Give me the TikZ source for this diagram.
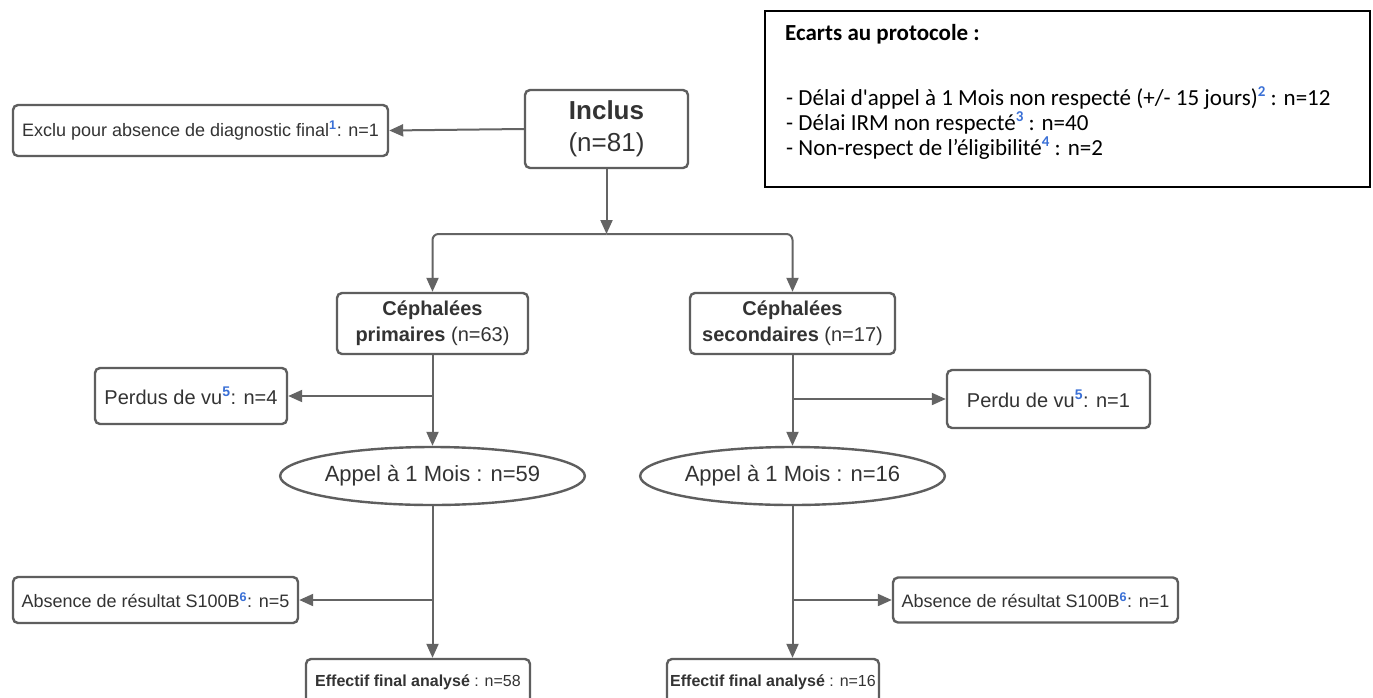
\documentclass[tikz,border=0pt]{standalone}
\usepackage{fontspec}
\setmainfont{Liberation Sans}
\newfontfamily\calibri{Carlito}
\usetikzlibrary{arrows.meta,shapes.geometric}
\definecolor{boxgray}{RGB}{94,94,94}
\definecolor{linegray}{RGB}{100,100,100}
\definecolor{txtgray}{RGB}{51,51,51}
\definecolor{supblue}{RGB}{58,112,214}
\newcommand\fnote[1]{\textsuperscript{\textcolor{supblue}{\bfseries #1}}}
\newcommand\pnote[1]{\raisebox{0.36em}{\fontsize{15}{15}\selectfont\textcolor{supblue}{\bfseries #1}}}
\newcommand\fsz[1]{\fontsize{#1}{#1}\selectfont}
\tikzset{
  fbox/.style={draw=boxgray, line width=2.4pt, rounded corners=5pt, fill=white,
    text=txtgray, align=center, inner sep=0pt},
  fell/.style={ellipse, draw=boxgray, line width=2.4pt, fill=white,
    text=txtgray, inner sep=0pt},
  conn/.style={draw=linegray, line width=2pt,
    -{Triangle[length=14pt,width=12pt]}},
  ptext/.style={anchor=base west, inner sep=0pt, text=black, font=\calibri\fsz{23}}
}
\begin{document}
\begin{tikzpicture}[x=1pt,y=-1pt]
\useasboundingbox[fill=white] (0,0) rectangle (1373,697);

% top
\node[fbox, minimum width=375pt, minimum height=51pt, font=\fsz{18}] (exclu) at (200.5,130.5)
  {Exclu pour absence de diagnostic final\fnote{1}: n=1};
\node[fbox, minimum width=163pt, minimum height=78pt, font=\fontsize{26}{32}\selectfont] (inclus) at (606.5,129)
  {{\bfseries Inclus}\\(n=81)};

% protocol box
\node[draw=black, line width=2pt, minimum width=605pt, minimum height=176pt, inner sep=0pt, anchor=north west] (proto) at (764,10) {};
\node[ptext] (p0) at (785,40) {\bfseries Ecarts au protocole :};
\node[ptext] (p1) at (786,105) {- Délai d'appel à 1 Mois non respecté (+/- 15 jours)\pnote{2} : n=12};
\node[ptext] (p2) at (786,130) {- Délai IRM non respecté\pnote{3} : n=40};
\node[ptext] (p3) at (786,155) {- Non-respect de l’éligibilité\pnote{4} : n=2};

% branches
\node[fbox, minimum width=191pt, minimum height=61pt, font=\fontsize{20}{26}\selectfont] (prim) at (432.5,323.5)
  {{\bfseries Céphalées}\\{\bfseries primaires} (n=63)};
\node[fbox, minimum width=205pt, minimum height=61pt, font=\fontsize{20}{26}\selectfont] (sec) at (792.5,323.5)
  {{\bfseries Céphalées}\\{\bfseries secondaires} (n=17)};

\node[fbox, minimum width=192pt, minimum height=56pt, font=\fsz{20}] (perdus1) at (191,396)
  {Perdus de vu\fnote{5}: n=4};
\node[fbox, minimum width=203pt, minimum height=58pt, font=\fsz{20}] (perdus2) at (1048.5,399)
  {Perdu de vu\fnote{5}: n=1};

\node[fell, minimum width=260pt, minimum height=58pt, font=\fsz{22}] (appel1) at (432.5,476)
  {Appel à 1 Mois : n=59};
\node[fell, minimum width=270pt, minimum height=58pt, font=\fsz{22}] (appel2) at (792.5,476)
  {Appel à 1 Mois : n=16};

\node[fbox, minimum width=285pt, minimum height=46pt, font=\fsz{18}] (abs1) at (155.5,600)
  {Absence de résultat S100B\fnote{6}: n=5};
\node[fbox, minimum width=285pt, minimum height=45pt, font=\fsz{18}] (abs2) at (1035.5,600)
  {Absence de résultat S100B\fnote{6}: n=1};

\node[fbox, minimum width=224pt, minimum height=46pt, font=\fsz{16}] (eff1) at (418,682)
  {{\bfseries Effectif final analysé} : n=58};
\node[fbox, minimum width=212pt, minimum height=46pt, font=\fsz{16}] (eff2) at (773,682)
  {{\bfseries Effectif final analysé} : n=16};

% connectors
\draw[conn] (inclus.west) -- (exclu.east);
\coordinate (split) at (606.5,234);
\draw[conn] (inclus.south) -- (split);
\draw[conn, rounded corners=6pt] (split) -| (prim.north);
\draw[conn, rounded corners=6pt] (split) -| (sec.north);

\draw[conn] (prim.south) -- (appel1.north);
\draw[conn] (prim.south |- perdus1.east) -- (perdus1.east);
\draw[conn] (sec.south) -- (appel2.north);
\draw[conn] (sec.south |- perdus2.west) -- (perdus2.west);

\coordinate (e1) at (appel1.south |- eff1.north);
\coordinate (e2) at (appel2.south |- eff2.north);
\draw[conn] (appel1.south) -- (e1);
\draw[conn] (appel1.south |- abs1.east) -- (abs1.east);
\draw[conn] (appel2.south) -- (e2);
\draw[conn] (appel2.south |- abs2.west) -- (abs2.west);
\end{tikzpicture}
\end{document}
